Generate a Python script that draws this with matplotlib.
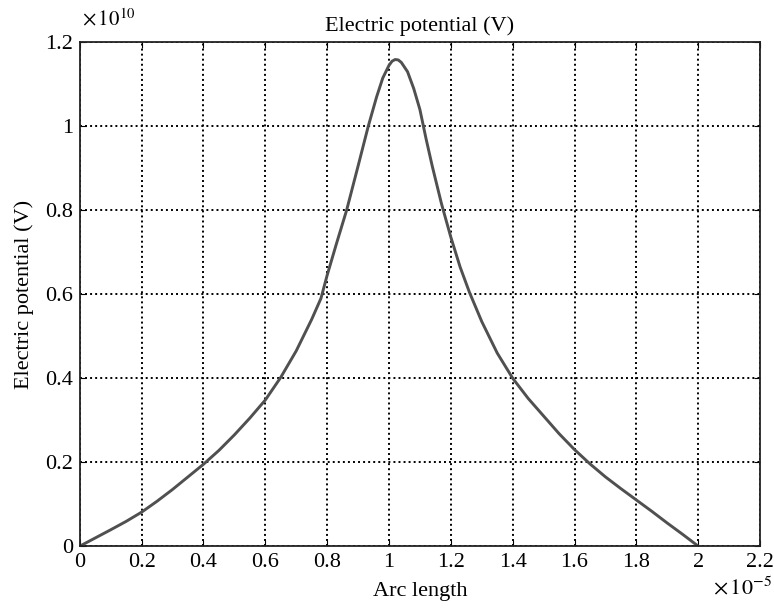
import numpy as np
import matplotlib
matplotlib.use("Agg")
import matplotlib.pyplot as plt
from matplotlib.ticker import FuncFormatter, FixedLocator

# Data (arc length in units of 1e-5, potential in units of 1e10 V)
arc_length_e5 = [0, 0.1, 0.15, 0.2, 0.25, 0.3, 0.35, 0.4, 0.45, 0.5, 0.55, 0.6, 0.65,
                 0.7, 0.75, 0.78, 0.8, 0.83, 0.863, 0.9, 0.933, 0.96, 0.98, 1.0, 1.01,
                 1.02, 1.03, 1.04, 1.06, 1.08, 1.1, 1.12, 1.14, 1.17, 1.2, 1.23, 1.26,
                 1.3, 1.35, 1.4, 1.45, 1.5, 1.55, 1.6, 1.65, 1.7, 1.75, 1.8, 1.85, 1.9,
                 1.95, 2.0]
potential_e10 = [0, 0.039, 0.059, 0.081, 0.107, 0.135, 0.165, 0.195, 0.228, 0.265, 0.305,
                 0.348, 0.402, 0.465, 0.54, 0.59, 0.645, 0.72, 0.80, 0.905, 1.0, 1.07,
                 1.115, 1.145, 1.155, 1.159, 1.158, 1.152, 1.13, 1.09, 1.04, 0.97, 0.905,
                 0.815, 0.736, 0.665, 0.605, 0.535, 0.46, 0.40, 0.352, 0.31, 0.268, 0.23,
                 0.196, 0.165, 0.137, 0.11, 0.083, 0.055, 0.028, 0]
x_ticks_e5 = [0, 0.2, 0.4, 0.6, 0.8, 1.0, 1.2, 1.4, 1.6, 1.8, 2.0, 2.2]
y_ticks_e10 = [0, 0.2, 0.4, 0.6, 0.8, 1.0, 1.2]

x = np.array(arc_length_e5) * 1e-5
y = np.array(potential_e10) * 1e10

plt.rcParams['font.family'] = ['Liberation Serif', 'DejaVu Serif']
plt.rcParams['mathtext.fontset'] = 'stix'

fig = plt.figure(figsize=(7.74, 6.13), dpi=100)
ax = fig.add_axes([0.103, 0.109, 0.879, 0.822])

ax.plot(x, y, color='#505050', lw=2.1, solid_capstyle='round', solid_joinstyle='round')

ax.set_xlim(0, 2.2e-5)
ax.set_ylim(0, 1.2e10)
ax.xaxis.set_major_locator(FixedLocator(np.array(x_ticks_e5) * 1e-5))
ax.yaxis.set_major_locator(FixedLocator(np.array(y_ticks_e10) * 1e10))
ax.xaxis.set_major_formatter(FuncFormatter(lambda v, p: f"{v / 1e-5:g}"))
ax.yaxis.set_major_formatter(FuncFormatter(lambda v, p: f"{v / 1e10:g}"))

ax.grid(True, color='black', linestyle=(0, (1, 1.6)), linewidth=1.4)
ax.tick_params(direction='in', length=4, labelsize=16, top=True, right=True,
               colors='black', pad=5)
for s in ax.spines.values():
    s.set_linewidth(1.3)
    s.set_color('#222222')

ax.set_title("Electric potential (V)", fontsize=16, pad=8)
ax.set_xlabel("Arc length", fontsize=16, labelpad=7)
ax.set_ylabel("Electric potential (V)", fontsize=16, labelpad=8)

fig.text(0.106, 0.968, r"$\times\,10^{10}$", fontsize=15, ha='left', va='center')
fig.text(0.997, 0.040, r"$\times\,10^{-5}$", fontsize=16, ha='right', va='center')

fig.savefig("out.png", dpi=100)
